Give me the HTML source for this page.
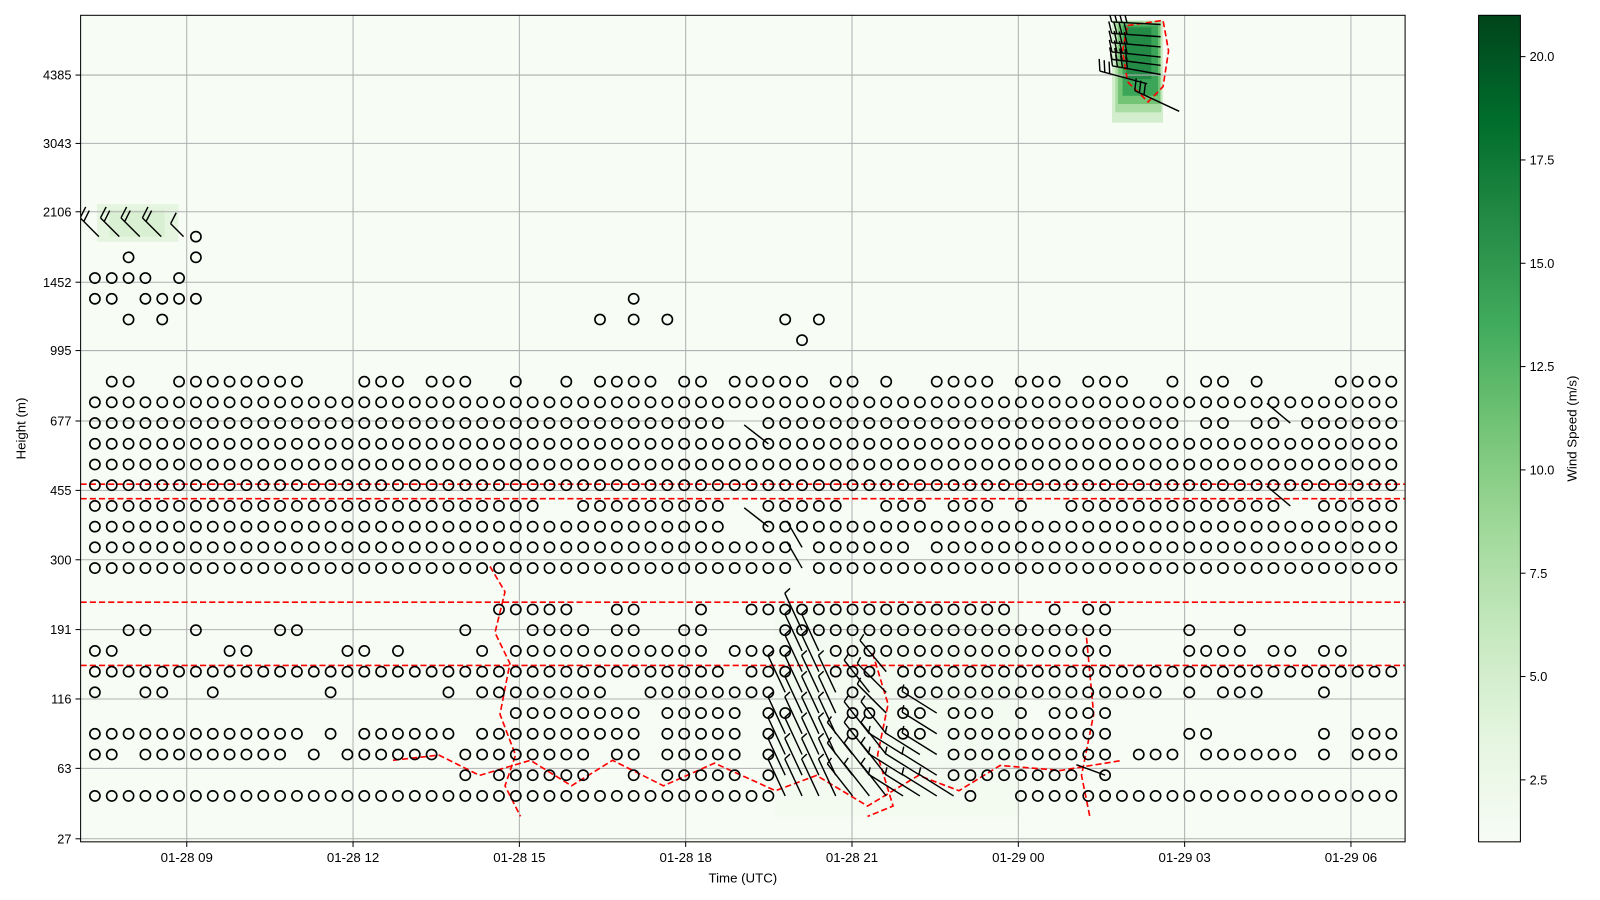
<!DOCTYPE html>
<html><head><meta charset="utf-8"><style>
html,body{margin:0;padding:0;background:#fff;}
svg{display:block;font-family:"Liberation Sans",sans-serif;}
</style></head><body>
<svg id="chart" width="1600" height="900" viewBox="0 0 1568 882" preserveAspectRatio="none" xmlns="http://www.w3.org/2000/svg">
<defs>
<linearGradient id="greens" x1="0" y1="1" x2="0" y2="0">
<stop offset="0" stop-color="#f7fcf5"/><stop offset="0.125" stop-color="#e5f5e0"/><stop offset="0.25" stop-color="#c7e9c0"/><stop offset="0.375" stop-color="#a1d99b"/><stop offset="0.5" stop-color="#74c476"/><stop offset="0.625" stop-color="#41ab5d"/><stop offset="0.75" stop-color="#238b45"/><stop offset="0.875" stop-color="#006d2c"/><stop offset="1" stop-color="#00441b"/>
</linearGradient>
<clipPath id="plotclip"><rect x="79" y="15" width="1298" height="810"/></clipPath>
</defs>
<rect x="79" y="15" width="1298" height="810" fill="#f7fcf5"/>
<g id="shade" clip-path="url(#plotclip)"></g>
<g id="grid"></g>
<g id="contours" clip-path="url(#plotclip)"></g>
<g id="calm" clip-path="url(#plotclip)"></g>
<g id="barbs" clip-path="url(#plotclip)"></g>
<rect x="79" y="15" width="1298" height="810" fill="none" stroke="#000" stroke-width="1"/>
<g id="xaxis"></g>
<g id="yaxis"></g>
<text x="728" y="865" font-size="13" text-anchor="middle">Time (UTC)</text>
<text x="0" y="0" font-size="13" text-anchor="middle" transform="translate(25,420) rotate(-90)">Height (m)</text>
<rect x="1449" y="15" width="41" height="810" fill="url(#greens)" stroke="#000" stroke-width="1"/>
<g id="cbaxis"></g>
<text x="0" y="0" font-size="13" text-anchor="middle" transform="translate(1545,420) rotate(-90)">Wind Speed (m/s)</text>
</svg>
<script>
// ---- data ----
const startHour = 7.343;
const stepHour = 0.3037;
const calmRows = [
"0-40,52,55-77",
"22,24-29,32,34-38,40,51-58,60",
"0,1,3-11,13,15-20,22-29,31,32,34-38,40,51-60,62-64,66-71,73,75-77",
"0-12,14,16-21,23-32,34-38,40,45,48,49,51-60,65,66,73,75-77",
"25-32,34-38,40,41,45,46,48,49,51-53,55,57-60",
"0,3,4,7,14,21,23-30,33-40,45,48-63,65,67-69,73",
"0-37,39-41,44-46,48-77",
"0,1,8,9,15,16,18,23,25-36,38-41,44-60,65-68,70,71,73,74",
"2,3,6,11,12,22,26-29,31,32,35,36,41-60,65,68",
"24-28,31,32,36,39-54,57,59,60",
"",
"0-41,43-77",
"0-41,43-48,50-77",
"0-37,40-77",
"0-26,29-37,40-44,47-49,51-53,55,58-70,73-77",
"0-77",
"0-77",
"0-77",
"0-37,40-64,66,67,69,70,72-77",
"0-77",
"1,2,5-12,16-18,20-22,25,28,30-33,35,36,38-42,44,45,47,50-53,55-57,59-61,64,66,67,69,74-77",
"",
"42",
"2,4,30,32,34,41,43",
"0,1,3-6,32",
"0-3,5",
"2,6",
"6"
];
// low-level barbs: [timeIndex, row, directionDeg, feathers]
const lowBarbs = [
[41,0,245,1],[42,0,245,1],[43,0,245,1],[44,0,245,1],[45,0,232,1],[46,0,232,1],[47,0,232,1],[48,0,212,1],[49,0,212,1],[50,0,212,1],[51,0,212,1],
[41,1,245,1],[42,1,245,1],[43,1,245,1],[44,1,245,1],[45,1,232,1],[46,1,232,1],[47,1,232,1],[48,1,212,1],[49,1,212,1],[50,1,212,1],
[41,2,245,1],[42,2,245,1],[43,2,245,1],[44,2,245,1],[45,2,232,1],[46,2,232,1],[47,2,232,1],[48,2,212,1],[49,2,212,1],[50,2,212,1],
[41,3,245,1],[42,3,245,1],[43,3,245,1],[44,3,245,1],[46,3,232,1],[47,3,232,1],[50,3,212,1],
[42,4,245,1],[43,4,245,1],[44,4,245,1],[47,4,225,1],[50,4,212,1],
[41,5,245,1],[42,5,245,1],[43,5,245,1],[44,5,245,1],[46,5,232,1],[47,5,225,1],
[42,6,245,1],[43,6,245,1],[47,6,230,1],
[42,7,245,1],[43,7,245,1],[42,8,245,1],
[42,11,240,0],[42,12,240,0],
[40,17,218,0],[40,13,218,0],[71,18,220,0],[71,14,220,0],[60,1,200,0]
];
const leftBarbs = [[0.24,27,225,2],[1.45,27,225,2],[2.67,27,225,2],[3.94,27,225,2],[5.27,27,225,1]];
const topBarbs = [[63.3,37.24,183,4],[63.3,36.65,184,4],[63.3,36.16,185,4],[63.3,35.67,186,4],[63.3,35.27,187,4],[63.3,34.83,190,4],[62.5,34.38,195,3],[64.4,33.05,205,3]];
// shading cells: [h0, h1, row0, row1, speed]
const shadeCells = [
[19.62,24.04,-1.0,9.36,1.6],
[7.38,8.85,26.75,28.57,3.5],
[7.6,8.6,27.0,28.3,4.5],
[25.69,26.61,32.5,37.44,5],
[25.75,26.58,33.0,37.4,8],
[25.80,26.56,33.4,37.3,11],
[25.88,26.52,33.8,37.2,14],
[25.95,26.40,34.6,37.1,16]
];
// contour lines: arrays of [hour, row]
const contourFlat = [15.05,14.35,9.35,6.3];
const contourA = [[14.47,11.08],[14.74,9.85],[14.56,7.88],[14.83,6.4],[14.65,3.94],[14.93,1.97],[14.74,0.49],[15.02,-0.99]];
const contourB = [[25.23,7.64],[25.36,3.94],[25.14,0.99],[25.29,-0.99]];
const contourC = [[21.37,6.9],[21.65,4.43],[21.46,1.97],[21.74,-0.49],[21.28,-0.99]];
const contourD = [[12.72,1.72],[13.55,1.97],[14.28,0.99],[15.2,1.72],[15.94,0.49],[16.68,1.72],[17.6,0.49],[18.52,1.58],[19.62,0.25],[20.36,0.99],[21.28,-0.49],[22.2,0.99],[22.93,0.25],[23.67,1.47],[24.77,1.23],[25.88,1.72]];
const contourE = [[25.97,37.19],[26.61,37.44],[26.71,35.96],[26.61,34.24],[26.34,33.5],[25.97,34.48],[25.88,35.96],[25.97,37.19]];
const xTickHours = [9,12,15,18,21,24,27,30];
const xTickLabels = ["01-28 09","01-28 12","01-28 15","01-28 18","01-28 21","01-29 00","01-29 03","01-29 06"];
const yTickRows = [-2.07,1.33,4.68,8.03,11.4,14.75,18.1,21.5,24.8,28.2,31.5,34.8];
const yTickLabels = ["27","63","116","191","300","455","677","995","1452","2106","3043","4385"];
const cbTicks = [2.5,5,7.5,10,12.5,15,17.5,20];
const cbTickLabels = ["2.5","5.0","7.5","10.0","12.5","15.0","17.5","20.0"];

// ---- scales ----
const NS="http://www.w3.org/2000/svg";
function xScale(h){return 183+(h-9)*54.33;}
function yScale(r){return 780-20.3*r;}
function xIdx(i){return xScale(startHour+i*stepHour);}
function cbScale(v){return 825-(v-1)*40.5;}
const vmin=1,vmax=21;
const stops=["#f7fcf5","#e5f5e0","#c7e9c0","#a1d99b","#74c476","#41ab5d","#238b45","#006d2c","#00441b"];
function hex(c){return [parseInt(c.substr(1,2),16),parseInt(c.substr(3,2),16),parseInt(c.substr(5,2),16)];}
function cmap(v){let t=Math.max(0,Math.min(1,(v-vmin)/(vmax-vmin)))*8;let k=Math.min(7,Math.floor(t));let f=t-k;let a=hex(stops[k]),b=hex(stops[k+1]);return "rgb("+a.map((x,j)=>Math.round(x+(b[j]-x)*f)).join(",")+")";}
function mk(tag,parent,attrs){const e=document.createElementNS(NS,tag);for(const k in attrs)e.setAttribute(k,attrs[k]);parent.appendChild(e);return e;}
function parseRow(s){const out=[];if(!s)return out;s.split(",").forEach(p=>{const q=p.split("-").map(Number);if(q.length===1)out.push(q[0]);else for(let i=q[0];i<=q[1];i++)out.push(i);});return out;}

// shading
const gS=document.getElementById("shade");
shadeCells.forEach(c=>{
  const x0=xScale(c[0]),x1=xScale(c[1]),y0=yScale(c[3]),y1=yScale(c[2]);
  const e=mk("rect",gS,{x:x0,y:y0,width:x1-x0,height:y1-y0,fill:cmap(c[4])});
  
  
});

// grid
const gG=document.getElementById("grid");
xTickHours.forEach(h=>{const e=mk("line",gG,{x1:xScale(h),x2:xScale(h),y1:15,y2:825,stroke:"#b0b0b0","stroke-width":1});
  
  });
yTickRows.forEach(r=>{const e=mk("line",gG,{x1:79,x2:1377,y1:yScale(r),y2:yScale(r),stroke:"#b0b0b0","stroke-width":1});
  
  });

// contours
const gC=document.getElementById("contours");
const cStyle={fill:"none",stroke:"#ff0000","stroke-width":1.6,"stroke-dasharray":"6,3"};
contourFlat.forEach(r=>{const e=mk("line",gC,Object.assign({x1:79,x2:1377,y1:yScale(r),y2:yScale(r)},cStyle));
  
  });
[contourA,contourB,contourC,contourD,contourE].forEach(pts=>{
  const d=pts.map((p,k)=>(k?"L":"M")+xScale(p[0]).toFixed(1)+","+yScale(p[1]).toFixed(1)).join(" ");
  const e=mk("path",gC,Object.assign({d:d},cStyle));
  
  
});

// calm circles
const gM=document.getElementById("calm");
calmRows.forEach((s,r)=>{parseRow(s).forEach(i=>{
  const e=mk("circle",gM,{cx:xIdx(i).toFixed(1),cy:yScale(r).toFixed(1),r:5,fill:"none",stroke:"#000","stroke-width":1.6});
  
  
});});

// barbs
const gB=document.getElementById("barbs");
function barb(b,L,fl){
  const sx=xIdx(b[0]),sy=yScale(b[1]);const a=b[2]*Math.PI/180;
  const ux=Math.cos(a),uy=Math.sin(a);const ex=sx+L*ux,ey=sy+L*uy;
  let d="M"+sx.toFixed(1)+","+sy.toFixed(1)+" L"+ex.toFixed(1)+","+ey.toFixed(1);
  const fa=a+72*Math.PI/180;
  for(let k=0;k<b[3];k++){const px=ex-k*5*ux,py=ey-k*5*uy;d+=" M"+px.toFixed(1)+","+py.toFixed(1)+" L"+(px+fl*Math.cos(fa)).toFixed(1)+","+(py+fl*Math.sin(fa)).toFixed(1);}
  const e=mk("path",gB,{d:d,fill:"none",stroke:"#000","stroke-width":1.4});
  
  
}
lowBarbs.forEach(b=>barb(b,b[3]?40:30,7));
leftBarbs.forEach(b=>barb(b,b[3]>1?26:18,12));
topBarbs.forEach(b=>barb(b,48,12));

// x axis
const gX=document.getElementById("xaxis");
xTickHours.forEach((h,k)=>{
  const t=mk("line",gX,{x1:xScale(h),x2:xScale(h),y1:825,y2:830,stroke:"#000"});
  
  
  const l=mk("text",gX,{x:xScale(h),y:845,"font-size":13,"text-anchor":"middle"});l.textContent=xTickLabels[k];
  
  
});
// y axis
const gY=document.getElementById("yaxis");
yTickRows.forEach((r,k)=>{
  const t=mk("line",gY,{x1:74,x2:79,y1:yScale(r),y2:yScale(r),stroke:"#000"});
  
  
  const l=mk("text",gY,{x:70,y:yScale(r)+4.5,"font-size":12.5,"text-anchor":"end"});l.textContent=yTickLabels[k];
  
  
});
// colorbar axis
const gCB=document.getElementById("cbaxis");
cbTicks.forEach((v,k)=>{
  const t=mk("line",gCB,{x1:1490,x2:1495,y1:cbScale(v),y2:cbScale(v),stroke:"#000"});
  
  
  const l=mk("text",gCB,{x:1499,y:cbScale(v)+4.5,"font-size":12.5});l.textContent=cbTickLabels[k];
  
  
});
</script>
</body></html>
